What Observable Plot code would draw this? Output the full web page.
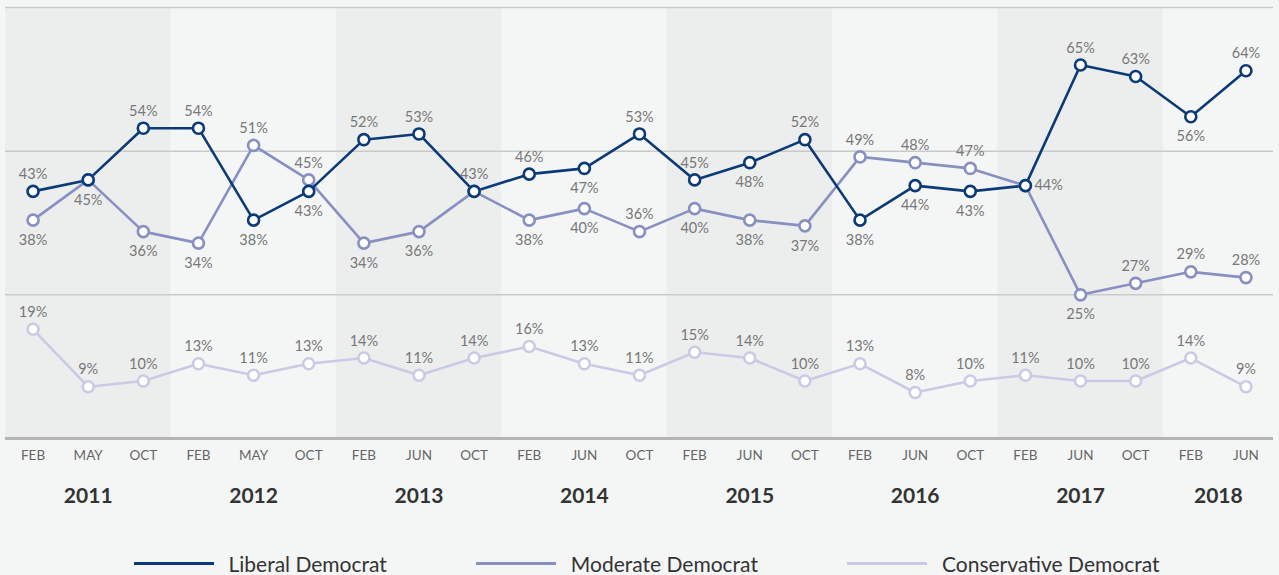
<!DOCTYPE html>
<html>
<head>
<meta charset="utf-8">
<script src="https://cdn.jsdelivr.net/npm/d3@7"></script>
<script src="https://cdn.jsdelivr.net/npm/@observablehq/plot@0.6"></script>
<style>
  html, body { margin: 0; padding: 0; background: #f4f6f6; font-family: Lato, "Open Sans", sans-serif; overflow: hidden; }
  #chart svg { display: block; }
  #legend { display: flex; justify-content: center; align-items: center; gap: 89px; margin-top: 31px; font-size: 21px; color: #333; padding-left: 14px; }
  .item { display: flex; align-items: center; }
  .swatch { display: inline-block; width: 80px; height: 3px; margin-right: 15px; }
</style>
</head>
<body>
<div id="chart"></div>
<div id="legend"></div>
<script>
const months = ["FEB","MAY","OCT","FEB","MAY","OCT","FEB","JUN","OCT","FEB","JUN","OCT","FEB","JUN","OCT","FEB","JUN","OCT","FEB","JUN","OCT","FEB","JUN"];
const years = ["2011","2012","2013","2014","2015","2016","2017","2018"];
const yearCounts = [3,3,3,3,3,3,3,2];

const seriesNames = ["Liberal Democrat","Moderate Democrat","Conservative Democrat"];
const liberal = [43,45,54,54,38,43,52,53,43,46,47,53,45,48,52,38,44,43,44,65,63,56,64];
const moderate = [38,45,36,34,51,45,34,36,43,38,40,36,40,38,37,49,48,47,44,25,27,29,28];
const conservative = [19,9,10,13,11,13,14,11,14,16,13,11,15,14,10,13,8,10,11,10,10,14,9];

// label placement: t = above, b = below, r = right, "" = none
const liberalPos = ["t","b","t","t","b","b","t","t","t","t","b","t","t","b","t","b","b","b","r","t","t","b","t"];
const moderatePos = ["b","","b","b","t","t","b","b","","b","b","t","b","b","b","t","t","t","","b","t","t","t"];
const conservativePos = conservative.map(() => "t");

const colors = ["#0c3a76","#8890c0","#c9cbe5"];

const rows = [];
[[conservative, conservativePos, 2],[moderate, moderatePos, 1],[liberal, liberalPos, 0]].forEach(([vals, pos, s]) => {
  vals.forEach((v, i) => rows.push({i, value: v, series: seriesNames[s], pos: pos[i]}));
});

// year bands
const yearBands = [];
let start = 0;
years.forEach((y, k) => {
  yearBands.push({year: y, x1: start - 0.5, x2: start + yearCounts[k] - 0.5, shade: k % 2 === 0, mid: start + (yearCounts[k] - 1) / 2});
  start += yearCounts[k];
});

const labelStyle = {fill: "#777", fontSize: 14.5, text: d => d.value + "%"};

const plot = Plot.plot({
  width: 1279,
  height: 520,
  marginLeft: 5,
  marginRight: 6,
  marginTop: 7,
  marginBottom: 82,
  style: {background: "transparent", fontFamily: "Lato, 'Open Sans', sans-serif"},
  x: {domain: [-0.5, 22.5]},
  y: {domain: [0, 75], axis: null},
  color: {domain: seriesNames, range: colors},
  marks: [
    Plot.rect(yearBands.filter(d => d.shade), {x1: "x1", x2: "x2", y1: 0, y2: 75, fill: "#eceeee"}),
    Plot.ruleY([25, 50, 75], {stroke: "#c9c9c9", strokeWidth: 1.5}),
    Plot.ruleY([0], {stroke: "#b4b4b4", strokeWidth: 3}),
    Plot.axisX({ticks: d3.range(months.length), tickFormat: i => months[i], tickSize: 0, tickPadding: 12, fontSize: 13.5, color: "#666", label: null}),
    Plot.text(yearBands, {x: "mid", y: 0, text: "year", dy: 58, fontSize: 21, fontWeight: "bold", fill: "#333"}),
    Plot.line(rows, {x: "i", y: "value", z: "series", stroke: "series", strokeWidth: 2.6}),
    Plot.dot(rows, {x: "i", y: "value", stroke: "series", fill: "white", r: 5.5, strokeWidth: 2.6}),
    Plot.text(rows.filter(d => d.pos === "t"), {x: "i", y: "value", dy: -17, ...labelStyle}),
    Plot.text(rows.filter(d => d.pos === "b"), {x: "i", y: "value", dy: 20, ...labelStyle}),
    Plot.text(rows.filter(d => d.pos === "r"), {x: "i", y: "value", dx: 9, textAnchor: "start", ...labelStyle})
  ]
});
document.getElementById("chart").appendChild(plot);

const legend = document.getElementById("legend");
seriesNames.forEach((n, k) => {
  const it = document.createElement("div");
  it.className = "item";
  it.innerHTML = `<span class="swatch" style="background:${colors[k]}"></span><span>${n}</span>`;
  legend.appendChild(it);
});
</script>
</body>
</html>
